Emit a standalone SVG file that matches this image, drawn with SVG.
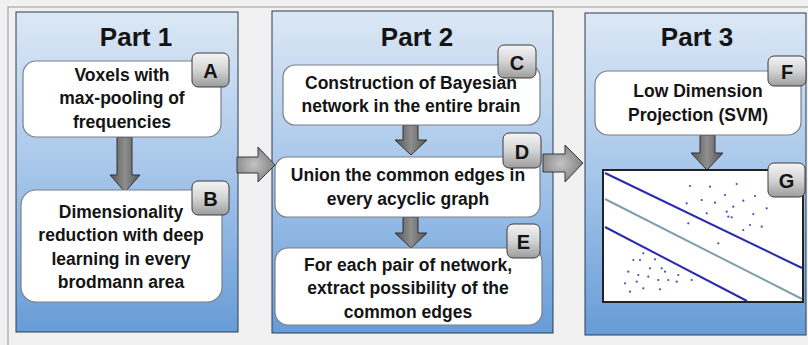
<svg xmlns="http://www.w3.org/2000/svg" width="808" height="345" viewBox="0 0 808 345">
<defs>
<linearGradient id="panel" x1="0" y1="0" x2="0" y2="1">
<stop offset="0" stop-color="#dce8f5"/>
<stop offset="0.5" stop-color="#a6c6ea"/>
<stop offset="1" stop-color="#679cd7"/>
</linearGradient>
<linearGradient id="badge" x1="0" y1="0" x2="0" y2="1">
<stop offset="0" stop-color="#f4f4f4"/>
<stop offset="0.5" stop-color="#d4d4d4"/>
<stop offset="1" stop-color="#9c9c9c"/>
</linearGradient>
<radialGradient id="harrow" cx="0.45" cy="0.5" r="0.6">
<stop offset="0" stop-color="#c4c4c4"/>
<stop offset="1" stop-color="#7c7c7c"/>
</radialGradient>
<linearGradient id="varrow" x1="0" y1="0" x2="1" y2="0">
<stop offset="0" stop-color="#555"/>
<stop offset="0.5" stop-color="#8e8e8e"/>
<stop offset="1" stop-color="#555"/>
</linearGradient>
</defs>
<style>
.panel{fill:url(#panel);stroke:#2d3c50;stroke-width:1}
.box{fill:#fff;stroke:#7a7f88;stroke-width:1.2}
.badge{fill:url(#badge);stroke:#3c3c3c;stroke-width:1}
.t{font-family:"Liberation Sans",Arial,sans-serif;font-weight:bold;fill:#141414;text-anchor:middle}
.title{font-size:26px}
.lbl{font-size:17.5px}
.bl{font-size:20px}
.ha{fill:url(#harrow);stroke:#3a3a3a;stroke-width:1}
.va{fill:url(#varrow);stroke:#333;stroke-width:1}
.sep{stroke:#2a2ab0;stroke-width:2}
.mid{stroke:#7fa0a8;stroke-width:2}
.dot{fill:#4a4ac0}
</style>
<rect x="0" y="0" width="808" height="345" fill="#f1f1f1"/>
<rect x="8" y="7" width="810" height="345" fill="none" stroke="#9a9a9a" stroke-width="1"/>

<g id="part1">
<rect class="panel" x="16" y="12" width="222" height="320"/>
<text class="t title" x="136" y="46">Part 1</text>
</g>
<g id="part2">
<rect class="panel" x="272" y="11" width="281" height="322"/>
<text class="t title" x="417" y="46">Part 2</text>
</g>
<g id="part3">
<rect class="panel" x="585" y="13" width="221" height="322"/>
<text class="t title" x="697" y="46">Part 3</text>
</g>

<g id="connectors">
<path class="va" d="M117,137 L132,137 L132,175 L140,175 L125,192 L110,175 L117,175 Z"/>
<path class="ha" d="M237,157 L258,157 L258,147 L275,165 L258,182 L258,173 L237,173 Z"/>
<path class="va" d="M403,125 L418,125 L418,140 L427,140 L411,155 L395,140 L403,140 Z"/>
<path class="va" d="M403,217 L418,217 L418,233 L427,233 L411,248 L395,233 L403,233 Z"/>
<path class="ha" d="M543,154 L565,154 L565,145 L583,163 L565,182 L565,172 L543,172 Z"/>
<path class="va" d="M700,135 L715,135 L715,153 L723,153 L707,170 L691,153 L700,153 Z"/>
</g>

<g id="nodeA">
<rect class="box" x="23" y="61" width="198" height="76" rx="13"/>
<text class="t lbl" x="122" y="81">Voxels with</text>
<text class="t lbl" x="122" y="104">max-pooling of</text>
<text class="t lbl" x="122" y="128">frequencies</text>
<rect class="badge" x="192" y="53" width="37" height="34" rx="6"/>
<text class="t bl" x="210.5" y="78">A</text>
</g>
<g id="nodeB">
<rect class="box" x="21" y="190" width="201" height="112" rx="15"/>
<text class="t lbl" x="121" y="218">Dimensionality</text>
<text class="t lbl" x="121" y="241">reduction with deep</text>
<text class="t lbl" x="121" y="265">learning in every</text>
<text class="t lbl" x="121" y="288">brodmann area</text>
<rect class="badge" x="192" y="181" width="37" height="34" rx="6"/>
<text class="t bl" x="210.5" y="206">B</text>
</g>
<g id="nodeC">
<rect class="box" x="283" y="65" width="257" height="60" rx="12"/>
<text class="t lbl" x="411" y="89">Construction of Bayesian</text>
<text class="t lbl" x="411" y="112">network in the entire brain</text>
<rect class="badge" x="498" y="45" width="38" height="33" rx="6"/>
<text class="t bl" x="517" y="70">C</text>
</g>
<g id="nodeD">
<rect class="box" x="275" y="157" width="265" height="60" rx="12"/>
<text class="t lbl" x="408" y="181">Union the common edges in</text>
<text class="t lbl" x="408" y="205">every acyclic graph</text>
<rect class="badge" x="503" y="133" width="38" height="35" rx="6"/>
<text class="t bl" x="522" y="159">D</text>
</g>
<g id="nodeE">
<rect class="box" x="275" y="248" width="267" height="77" rx="13"/>
<text class="t lbl" x="408" y="271">For each pair of network,</text>
<text class="t lbl" x="408" y="294">extract possibility of the</text>
<text class="t lbl" x="408" y="318">common edges</text>
<rect class="badge" x="507" y="224" width="33" height="34" rx="6"/>
<text class="t bl" x="523.5" y="249">E</text>
</g>
<g id="nodeF">
<rect class="box" x="595" y="71" width="206" height="64" rx="13"/>
<text class="t lbl" x="698" y="97">Low Dimension</text>
<text class="t lbl" x="698" y="121">Projection (SVM)</text>
<rect class="badge" x="768" y="56" width="38" height="30" rx="6"/>
<text class="t bl" x="787" y="79">F</text>
</g>
<g id="nodeG">
<rect x="603" y="170" width="200" height="132" fill="#fff" stroke="#222" stroke-width="2"/>
<line class="sep" x1="605" y1="173" x2="802" y2="268"/>
<line class="mid" x1="605" y1="199" x2="802" y2="299"/>
<line class="sep" x1="605" y1="227" x2="747" y2="301"/>
<g>
<circle class="dot" cx="690" cy="186" r="1.1"/><circle class="dot" cx="710" cy="186.7" r="1.1"/><circle class="dot" cx="736.7" cy="184" r="1.1"/>
<circle class="dot" cx="686.7" cy="203.3" r="1.1"/><circle class="dot" cx="701.7" cy="200" r="1.1"/><circle class="dot" cx="715" cy="202.7" r="1.1"/>
<circle class="dot" cx="725" cy="195" r="1.1"/><circle class="dot" cx="743.3" cy="200.7" r="1.1"/><circle class="dot" cx="755" cy="196" r="1.1"/>
<circle class="dot" cx="766.7" cy="208.3" r="1.1"/><circle class="dot" cx="706.7" cy="213.3" r="1.1"/><circle class="dot" cx="726.7" cy="211.7" r="1.1"/>
<circle class="dot" cx="728.3" cy="216.7" r="1.1"/><circle class="dot" cx="731.7" cy="217.3" r="1.1"/><circle class="dot" cx="733.3" cy="206.7" r="1.1"/>
<circle class="dot" cx="753.3" cy="214" r="1.1"/><circle class="dot" cx="688.3" cy="223.3" r="1.1"/><circle class="dot" cx="743.3" cy="230" r="1.1"/>
<circle class="dot" cx="750" cy="225" r="1.1"/><circle class="dot" cx="761.7" cy="226.7" r="1.1"/><circle class="dot" cx="718.3" cy="243.3" r="1.1"/>
<circle class="dot" cx="643.3" cy="253.3" r="1.1"/><circle class="dot" cx="633.3" cy="260" r="1.1"/><circle class="dot" cx="640" cy="260" r="1.1"/>
<circle class="dot" cx="655" cy="259.3" r="1.1"/><circle class="dot" cx="628.3" cy="271.7" r="1.1"/><circle class="dot" cx="638.3" cy="275" r="1.1"/>
<circle class="dot" cx="650" cy="268.3" r="1.1"/><circle class="dot" cx="661.7" cy="268.3" r="1.1"/><circle class="dot" cx="665" cy="271.7" r="1.1"/>
<circle class="dot" cx="678.3" cy="275" r="1.1"/><circle class="dot" cx="625" cy="283.3" r="1.1"/><circle class="dot" cx="636.7" cy="281.7" r="1.1"/>
<circle class="dot" cx="648.3" cy="276.7" r="1.1"/><circle class="dot" cx="658.3" cy="280" r="1.1"/><circle class="dot" cx="668.3" cy="280" r="1.1"/>
<circle class="dot" cx="676.7" cy="281.7" r="1.1"/><circle class="dot" cx="691.7" cy="280" r="1.1"/><circle class="dot" cx="630" cy="291.7" r="1.1"/>
<circle class="dot" cx="643.3" cy="288.3" r="1.1"/><circle class="dot" cx="660" cy="289.3" r="1.1"/>
</g>
<rect class="badge" x="768" y="163" width="37" height="34" rx="6"/>
<text class="t bl" x="786.5" y="188">G</text>
</g>
</svg>
